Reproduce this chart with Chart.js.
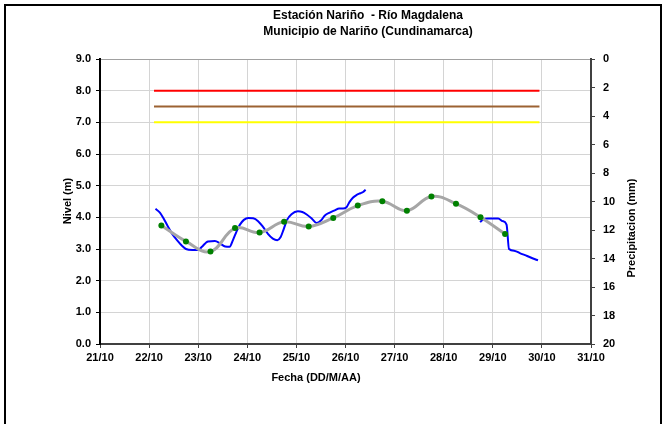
<!DOCTYPE html>
<html>
<head>
<meta charset="utf-8">
<script src="https://cdn.jsdelivr.net/npm/chart.js@4/dist/chart.umd.min.js"></script>
<style>
  html, body { margin: 0; padding: 0; background: #fff; }
</style>
</head>
<body>
<canvas id="chart" width="666" height="424"></canvas>
<script>
/* -------------------------------------------------- */
/* Data                                               */
/* -------------------------------------------------- */

const TITULO = ['Estación Nariño  - Río Magdalena', 'Municipio de Nariño (Cundinamarca)'];

// Nivel observado (dias de octubre, metros); null = sin dato
const NIVEL_DIAS = [22.13, 22.22, 22.29, 22.38, 22.46, 22.59, 22.67, 22.75, 22.88, 23.00,
  23.07, 23.20, 23.34, 23.45, 23.55, 23.64, 23.71, 23.78, 23.85, 23.93,
  24.02, 24.12, 24.22, 24.32, 24.42, 24.52, 24.61, 24.68, 24.74, 24.81,
  24.90, 25.03, 25.12, 25.21, 25.32, 25.41, 25.50, 25.58, 25.68, 25.78,
  25.87, 25.95, 26.02, 26.08, 26.15, 26.22, 26.30, 26.36, 26.41,
  27.50,
  28.74, 28.80, 28.90, 29.00, 29.11, 29.20, 29.28, 29.33, 29.45, 29.55,
  29.70, 29.82, 29.92];
const NIVEL_M = [4.27, 4.15, 3.98, 3.72, 3.50, 3.24, 3.10, 3.00, 2.97, 2.97,
  3.06, 3.24, 3.25, 3.17, 3.08, 3.07, 3.29, 3.55, 3.77, 3.92,
  3.98, 3.97, 3.88, 3.70, 3.48, 3.33, 3.28, 3.38, 3.62, 3.92,
  4.10, 4.19, 4.17, 4.09, 3.95, 3.82, 3.90, 4.06, 4.15, 4.22,
  4.28, 4.28, 4.32, 4.48, 4.62, 4.70, 4.76, 4.80, 4.87,
  null,
  3.85, 3.93, 3.96, 3.96, 3.96, 3.88, 3.77, 3.00, 2.94, 2.87,
  2.78, 2.70, 2.64];

// Nivel cada 12 horas (linea gris con puntos verdes)
const PROM_DIAS = [22.25, 22.75, 23.25, 23.75, 24.25, 24.75, 25.25, 25.75,
  26.25, 26.75, 27.25, 27.75, 28.25, 28.75, 29.25];
const PROM_M = [3.74, 3.24, 2.92, 3.66, 3.52, 3.86, 3.71, 3.98,
  4.37, 4.51, 4.21, 4.66, 4.43, 4.00, 3.47];

// Umbrales de alerta
const UMBRAL_DIAS = [22.1, 29.95];
const UMBRAL_ROJO = 8.0;
const UMBRAL_NARANJA = 7.5;
const UMBRAL_AMARILLO = 7.0;

/* -------------------------------------------------- */
/* Helpers                                            */
/* -------------------------------------------------- */

const FONT = "'Liberation Sans', Arial, sans-serif";
Chart.defaults.font.family = FONT;
Chart.defaults.font.size = 11;
Chart.defaults.font.weight = 'bold';
Chart.defaults.color = '#000';

function puntos(xs, ys) {
  return xs.map((x, i) => ({ x, y: ys[i] }));
}

function umbral(valor, color) {
  return {
    data: UMBRAL_DIAS.map(x => ({ x, y: valor })),
    borderColor: color,
    borderWidth: 2,
    pointRadius: 0,
    order: 5,
  };
}

// Titles, border and right-axis label drawn directly
const marcoPlugin = {
  id: 'marco',
  afterDraw(chart) {
    const ctx = chart.ctx;
    ctx.save();
    ctx.fillStyle = '#000';
    ctx.textAlign = 'center';
    ctx.textBaseline = 'middle';
    ctx.font = 'bold 12px ' + FONT;
    ctx.fillText(TITULO[0], 368, 16);
    ctx.fillText(TITULO[1], 368, 32);

    ctx.font = 'bold 11px ' + FONT;
    ctx.fillText('Fecha (DD/M/AA)', 316, 378);

    ctx.save();
    ctx.translate(68, 201);
    ctx.rotate(-Math.PI / 2);
    ctx.fillText('Nivel (m)', 0, 0);
    ctx.restore();

    ctx.save();
    ctx.translate(632, 228);
    ctx.rotate(-Math.PI / 2);
    ctx.fillText('Precipitacion (mm)', 0, 0);
    ctx.restore();

    ctx.strokeStyle = '#000';
    ctx.lineWidth = 2;
    ctx.strokeRect(5, 5, 656, 440);
    ctx.restore();
  },
};

/* -------------------------------------------------- */
/* Chart                                              */
/* -------------------------------------------------- */

const ctx = document.getElementById('chart').getContext('2d');
new Chart(ctx, {
  type: 'line',
  data: {
    datasets: [
      {
        data: puntos(NIVEL_DIAS, NIVEL_M),
        borderColor: '#0000ff',
        borderWidth: 2,
        pointRadius: 0,
        cubicInterpolationMode: 'monotone',
        spanGaps: false,
        order: 3,
      },
      {
        data: puntos(PROM_DIAS, PROM_M),
        borderColor: '#a6a6a6',
        borderWidth: 3,
        tension: 0.4,
        pointRadius: 3,
        pointBorderWidth: 0,
        pointBackgroundColor: '#008000',
        order: 1,
      },
      umbral(UMBRAL_ROJO, '#ff0000'),
      umbral(UMBRAL_NARANJA, '#9c6232'),
      umbral(UMBRAL_AMARILLO, '#ffff00'),
    ],
  },
  options: {
    responsive: false,
    animation: false,
    devicePixelRatio: 1,
    layout: { padding: { top: 59, left: 0, right: 0, bottom: 0 } },
    plugins: {
      legend: { display: false },
      title: { display: false },
      tooltip: { enabled: false },
    },
    scales: {
      x: {
        type: 'linear',
        min: 21,
        max: 31,
        ticks: { stepSize: 1, padding: 3, callback: v => v + '/10', maxRotation: 0 },
        grid: { color: '#d4d4d4', tickLength: 4, tickColor: '#404040' },
        border: { color: '#404040', width: 2 },
        afterFit: s => { s.height = 80; },
      },
      y: {
        min: 0,
        max: 9,
        ticks: { stepSize: 1, padding: 5, callback: v => v.toFixed(1) },
        grid: {
          color: c => (c.tick && c.tick.value === 9 ? '#a0a0a0' : '#d4d4d4'),
          tickLength: 4,
          tickColor: '#000',
        },
        border: { color: '#000', width: 2 },
        afterFit: s => { s.width = 100; },
      },
      y2: {
        position: 'right',
        reverse: true,
        min: 0,
        max: 20,
        ticks: { stepSize: 2, padding: 8 },
        grid: { drawOnChartArea: false, tickLength: 4, tickColor: '#404040' },
        border: { color: '#404040', width: 2 },
        afterFit: s => { s.width = 75; },
      },
    },
  },
  plugins: [marcoPlugin],
});
</script>
</body>
</html>
